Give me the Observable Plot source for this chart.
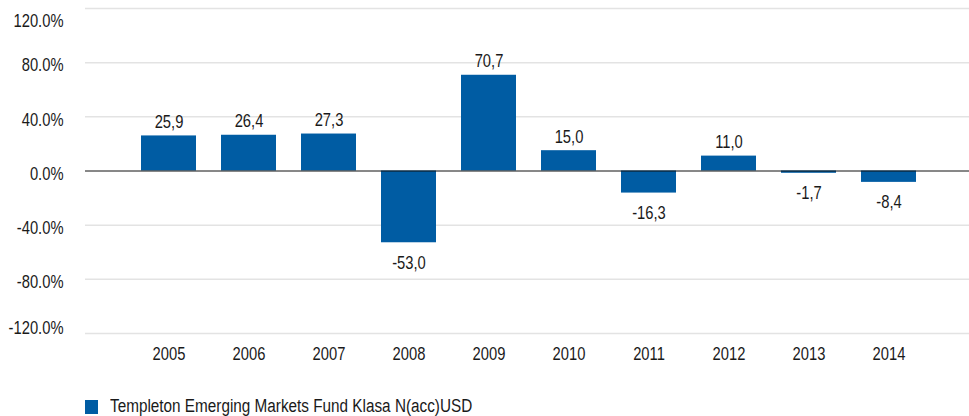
<!DOCTYPE html>
<html>
<head>
<meta charset="utf-8">
<script src="https://cdn.jsdelivr.net/npm/d3@7"></script>
<script src="https://cdn.jsdelivr.net/npm/@observablehq/plot@0.6"></script>
<style>
  html, body { margin: 0; padding: 0; background: #fff; }
  body { width: 969px; height: 416px; overflow: hidden; position: relative; font-family: "Liberation Sans", Arial, sans-serif; }
  #sw { position: absolute; left: 85px; top: 400px; width: 13px; height: 14px; background: #005ca3; }
  #legtext { position: absolute; left: 110px; top: 397px; font-size: 18px; line-height: 18px; color: #1a1a1a; white-space: nowrap; transform: scaleX(0.85); transform-origin: 0 0; }
</style>
</head>
<body>
<div id="chart"></div>
<div id="sw"></div>
<div id="legtext"></div>
<script>
const years = ["2005","2006","2007","2008","2009","2010","2011","2012","2013","2014"];
const returns = [25.9, 26.4, 27.3, -53.0, 70.7, 15.0, -16.3, 11.0, -1.7, -8.4];
const yTicks = [-120, -80, -40, 0, 40, 80, 120];
const seriesName = "Templeton Emerging Markets Fund Klasa N(acc)USD";
const barColor = "#005ca3";

const data = years.map((y, i) => ({year: y, value: returns[i]}));
const fmt = v => v.toFixed(1).replace(".", ",");
const pct = d => d.toFixed(1) + "%";
const FONT = '"Liberation Sans", Arial, sans-serif';
const TXT = "#1a1a1a";

const chart = Plot.plot({
  width: 969,
  height: 372,
  marginLeft: 85,
  marginRight: 0,
  marginTop: 8,
  marginBottom: 39,
  style: {fontFamily: FONT, fontSize: "18px", color: TXT, background: "#fff", overflow: "visible"},
  x: {domain: years, paddingInner: 0.308, paddingOuter: 0, insetLeft: 52, insetRight: 48, label: null},
  y: {domain: [-120, 120], label: null},
  marks: [
    Plot.ruleY(yTicks.filter(d => d !== 0), {stroke: "#e3e3e3", strokeWidth: 1.5}),
    Plot.barY(data, {x: "year", y: "value", fill: barColor}),
    Plot.ruleY([0], {stroke: "#111", strokeWidth: 1}),
    Plot.axisY(yTicks.filter(d => Math.abs(d) < 120), {tickSize: 0, tickPadding: 22, tickFormat: pct, label: null, fontSize: 18, dy: 3, fill: TXT}),
    Plot.axisY([120], {tickSize: 0, tickPadding: 22, tickFormat: pct, label: null, fontSize: 18, dy: 13, fill: TXT}),
    Plot.axisY([-120], {tickSize: 0, tickPadding: 22, tickFormat: pct, label: null, fontSize: 18, dy: -5, fill: TXT}),
    Plot.axisX({tickSize: 0, tickPadding: 14, label: null, fontSize: 18, fill: TXT}),
    Plot.text(data.filter(d => d.value >= 0), {x: "year", y: "value", text: d => fmt(d.value), lineAnchor: "bottom", dy: -8, fontSize: 18, fill: TXT}),
    Plot.text(data.filter(d => d.value < 0), {x: "year", y: "value", text: d => fmt(d.value), lineAnchor: "top", dy: 13, fontSize: 18, fill: TXT})
  ]
});
// condense glyphs horizontally to mimic the narrow face of the original
d3.select(chart).selectAll("text").each(function() {
  const t = this.getAttribute("transform") || "";
  this.setAttribute("transform", (t + " scale(0.82,1)").trim());
  const x = this.getAttribute("x");
  if (x != null) this.setAttribute("x", +x / 0.82);
});
document.getElementById("chart").appendChild(chart);
document.getElementById("legtext").textContent = seriesName;
</script>
</body>
</html>
